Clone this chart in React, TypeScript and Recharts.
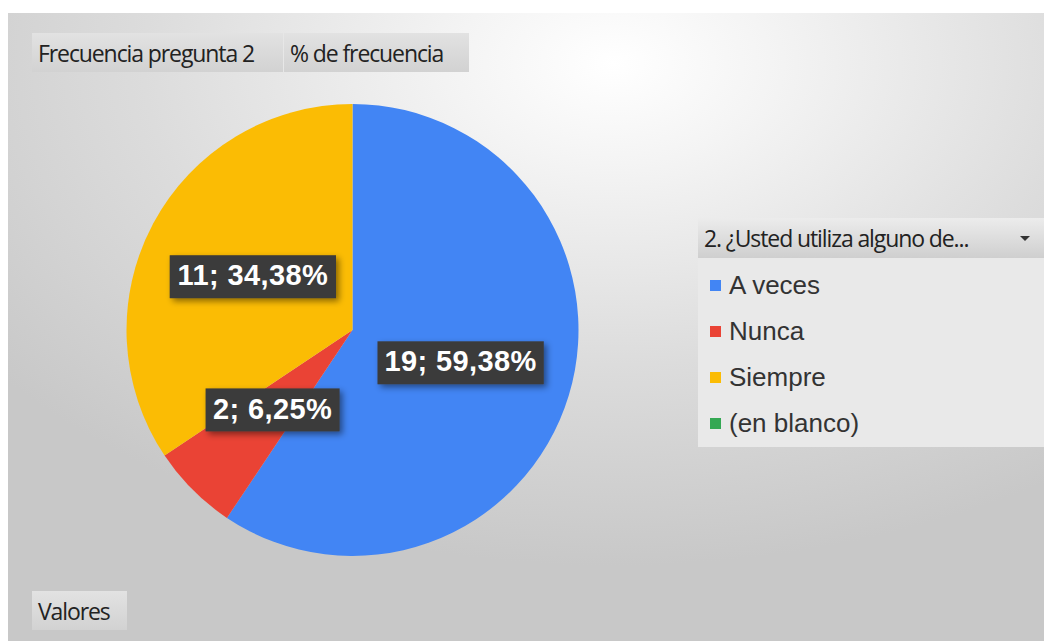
import { PieChart, Pie, Cell, Legend } from 'recharts';

const categories = ['A veces', 'Nunca', 'Siempre', '(en blanco)'];
const counts = [19, 2, 11, 0];
const percents = ['59,38%', '6,25%', '34,38%', '0,00%'];
const colors = ['#4285F4', '#EA4335', '#FBBC04', '#34A853'];

const fieldButtons = ['Frecuencia pregunta 2', '% de frecuencia'];
const legendTitle = '2. ¿Usted utiliza alguno de...';

const data = categories.map((name, i) => ({ name, value: counts[i], pct: percents[i] }));

const W = 1044;
const H = 628;
const RADIAN = Math.PI / 180;

function textWidth(s: string, size: number) {
  let w = 0;
  for (const ch of s) {
    if (/[0-9]/.test(ch)) w += 0.556;
    else if (ch === '%') w += 0.889;
    else if (ch === ';') w += 0.333;
    else w += 0.278;
  }
  return w * size;
}

const renderLabel = (props: any) => {
  const { cx, cy, midAngle, outerRadius, index } = props;
  const d = data[index];
  if (!d || d.value === 0) return null;
  const r = outerRadius * 0.5;
  const x = cx + r * Math.cos(-midAngle * RADIAN);
  const y = cy + r * Math.sin(-midAngle * RADIAN);
  const text = `${d.value}; ${d.pct}`;
  const fs = 29;
  const bw = textWidth(text, fs) + 18;
  const bh = 43;
  return (
    <g>
      <rect x={x - bw / 2} y={y - bh / 2} width={bw} height={bh} fill="#3b3b3b" filter="url(#lblShadow)" />
      <text
        x={x}
        y={y + 1}
        textAnchor="middle"
        dominantBaseline="middle"
        fill="#ffffff"
        fontFamily="'Liberation Sans', Arial, sans-serif"
        fontWeight="bold"
        fontSize={fs}
        letterSpacing={0.4}
      >
        {text}
      </text>
    </g>
  );
};

const LegendBox = () => (
  <div style={{ width: 350, fontFamily: "'Liberation Sans', Arial, sans-serif" }}>
    <div
      style={{
        height: 40,
        background: 'linear-gradient(#ececec, #cfcfcf)',
        display: 'flex',
        alignItems: 'center',
        paddingLeft: 6,
        position: 'relative',
        fontFamily: "'Open Sans', sans-serif",
        fontSize: 23,
        letterSpacing: -1.1,
        color: '#222',
        boxSizing: 'border-box',
      }}
    >
      {legendTitle}
      <div
        style={{
          position: 'absolute',
          right: 18,
          top: 18,
          width: 0,
          height: 0,
          borderLeft: '5px solid transparent',
          borderRight: '5px solid transparent',
          borderTop: '5px solid #333',
        }}
      />
    </div>
    <div style={{ background: '#e9e9e9', height: 189, paddingTop: 4, boxSizing: 'border-box' }}>
      {categories.map((c, i) => (
        <div key={c} style={{ height: 46, display: 'flex', alignItems: 'center', paddingLeft: 12 }}>
          <span style={{ width: 11, height: 11, background: colors[i], display: 'inline-block', marginRight: 8 }} />
          <span style={{ fontSize: 26, color: '#333' }}>{c}</span>
        </div>
      ))}
    </div>
  </div>
);

const btnStyle: React.CSSProperties = {
  position: 'absolute',
  height: 39,
  background: 'linear-gradient(#e2e2e2, #d2d2d2)',
  fontFamily: "'Open Sans', sans-serif",
  fontSize: 23,
  letterSpacing: -1.1,
  color: '#222',
  display: 'flex',
  alignItems: 'center',
  paddingLeft: 6,
  boxSizing: 'border-box',
};

export default function App() {
  return (
    <div
      style={{
        position: 'relative',
        width: W,
        height: H,
        marginTop: 5,
        background: 'radial-gradient(ellipse 75% 80% at 58% 8%, #ffffff 0%, #f4f4f4 20%, #dcdcdc 60%, #c8c8c8 100%)',
        overflow: 'hidden',
      }}
    >
      <PieChart width={W} height={H} style={{ position: 'absolute', left: 0, top: 0 }}>
        <defs>
          <filter id="lblShadow" x="-20%" y="-30%" width="150%" height="180%">
            <feDropShadow dx="3" dy="3" stdDeviation="3" floodColor="#000" floodOpacity="0.45" />
          </filter>
        </defs>
        <Pie
          data={data}
          dataKey="value"
          nameKey="name"
          cx={339.5}
          cy={312}
          outerRadius={226}
          startAngle={90}
          endAngle={-270}
          stroke="none"
          label={renderLabel}
          labelLine={false}
          isAnimationActive={false}
        >
          {data.map((d, i) => (
            <Cell key={d.name} fill={colors[i]} />
          ))}
        </Pie>
        <Legend
          layout="vertical"
          align="right"
          verticalAlign="top"
          content={() => <LegendBox />}
          wrapperStyle={{ left: 690, top: 205, width: 350 }}
        />
      </PieChart>
      <div style={{ ...btnStyle, left: 24, top: 20, width: 251 }}>{fieldButtons[0]}</div>
      <div style={{ ...btnStyle, left: 276, top: 20, width: 185 }}>{fieldButtons[1]}</div>
      <div style={{ ...btnStyle, left: 24, top: 578, width: 95 }}>Valores</div>
    </div>
  );
}
